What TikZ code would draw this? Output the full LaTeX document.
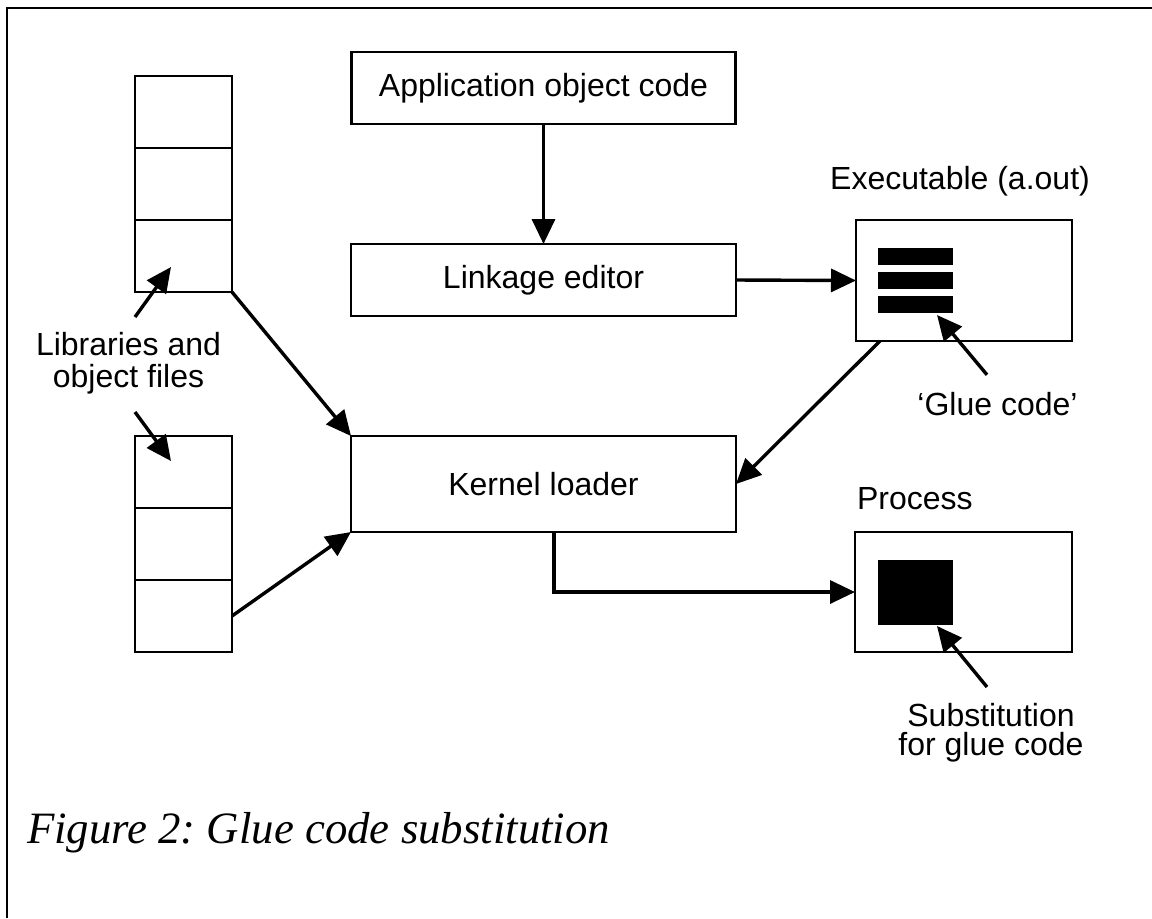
\documentclass[tikz,border=0pt]{standalone}
\usepackage{fontspec}
\setmainfont{Liberation Sans}
\newfontfamily\capfont{Liberation Serif}
\usetikzlibrary{arrows.meta}
\frenchspacing

\begin{document}
\begin{tikzpicture}[x=0.5pt,y=-0.5pt,
  every node/.style={inner sep=0pt, outer sep=0pt},
  txt/.style={font=\fontsize{16}{16}\selectfont},
  box/.style={draw, line width=1.4pt, font=\fontsize{16}{16}\selectfont},
  cell/.style={draw, line width=1.4pt, minimum width=48.5pt, minimum height=36pt},
  bar/.style={fill=black, minimum width=37.5pt, minimum height=8.5pt},
  arr/.style={line width=1.7pt, -{Triangle[length=12.5pt,width=11.5pt]}},
  frame/.style={line width=0.7pt}
]
\useasboundingbox (0,0) rectangle (1152,918);

% page frame (left and top edges)
\draw[frame] (7,918) -- (7,8) -- (1152,8);

% main processing boxes
\node[box, minimum width=192pt, minimum height=36pt] (app) at (543.5,88) {Application object code};
\node[box, minimum width=192.5pt, minimum height=36pt] (link) at (543.5,280) {Linkage editor};
\node[box, minimum width=192.5pt, minimum height=48pt] (kernel) at (543.5,484) {Kernel loader};

% executable and its glue code
\node[box, minimum width=108pt, minimum height=60.5pt] (exec) at (964,280.5) {};
\node[bar] (bar1) at (915.5,256.5) {};
\node[bar] (bar2) at (915.5,280.5) {};
\node[bar] (bar3) at (915.5,304.5) {};
\node[txt, anchor=base] (execlbl) at (960,189) {Executable (a.out)};

% process with substituted code
\node[box, minimum width=108.5pt, minimum height=60pt] (proc) at (963.5,592) {};
\node[fill=black, minimum width=37.5pt, minimum height=32.5pt] (subst) at (915.5,592.5) {};
\node[txt, anchor=base west] (proclbl) at (857,509) {Process};

% library stacks
\node[cell] (t1) at (183.5,112) {};
\node[cell] (t2) at (183.5,184) {};
\node[cell] (t3) at (183.5,256) {};
\node[cell] (b1) at (183.5,472) {};
\node[cell] (b2) at (183.5,544) {};
\node[cell] (b3) at (183.5,616) {};

% annotations
\node[txt, align=center, anchor=north] (libs) at (128.5,332) {Libraries and\\object files};
\node[txt, anchor=base] (glue) at (997.5,415) {‘Glue code’};
\node[font=\fontsize{16}{14.5}\selectfont, align=center, anchor=north] (sublbl) at (991,703) {Substitution\\for glue code};

% caption
\node[anchor=base west, font=\capfont\itshape\fontsize{22.4}{22.4}\selectfont] (caption) at (27,843) {Figure 2: Glue code substitution};

% connectors
\draw[arr] (app.south) -- (link.north);
\draw[arr] (link.east) -- (exec.west);
\draw[arr] ([xshift=12pt]exec.south west) -- (kernel.east);
\draw[arr] (t3.south east) -- (kernel.north west);
\draw[arr] (b3.east) -- (kernel.south west);
\draw[arr] ([xshift=5.25pt]kernel.south) |- (proc.west);
\draw[arr] ([shift={(-10.5,-17)}]glue.north) -- ([shift={(-16,2)}]bar3.south east);
\draw[arr] ([shift={(-4,-16)}]sublbl.north) -- ([shift={(-16,1)}]subst.south east);
\draw[arr] ([shift={(6.5,-15)}]libs.north) -- ([shift={(-12.5,-25)}]t3.south);
\draw[arr] ([shift={(6.5,80)}]libs.north) -- ([shift={(-12.5,25)}]b1.north);
\end{tikzpicture}
\end{document}
